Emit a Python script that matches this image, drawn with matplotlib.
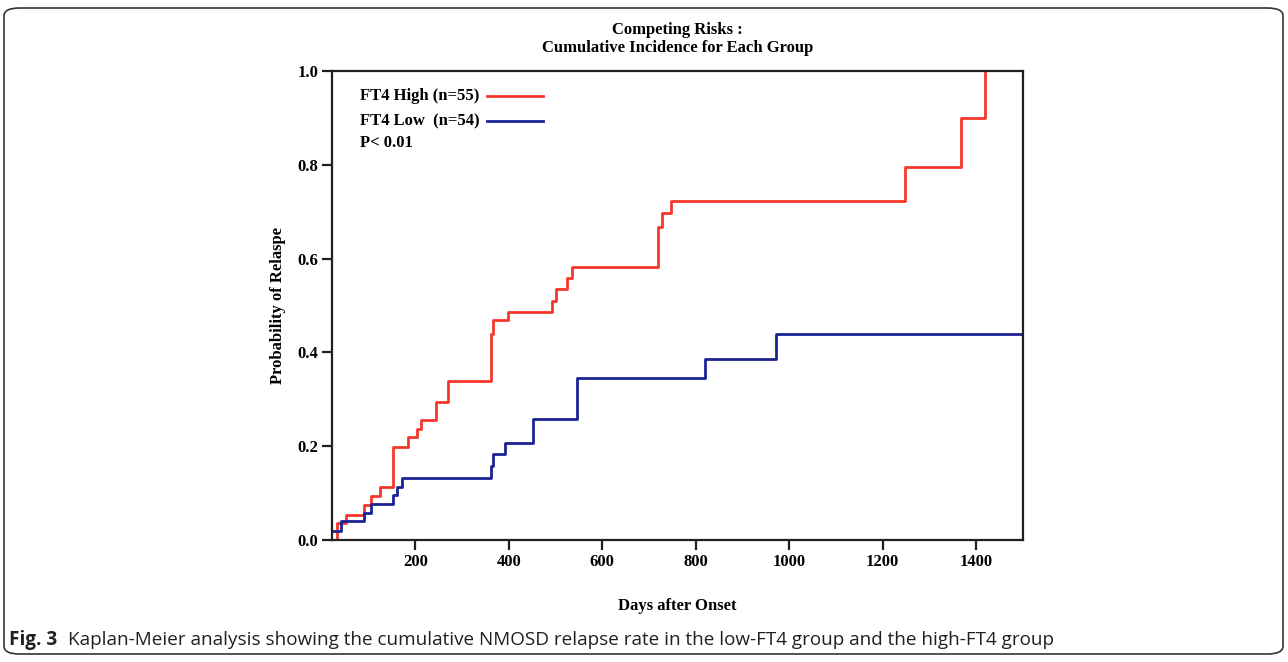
import numpy as np
import matplotlib
matplotlib.use('Agg')
import matplotlib.pyplot as plt
from matplotlib.patches import FancyBboxPatch

# cumulative incidence (days, probability)
high_days = [22, 33, 51, 91, 105, 124, 153, 184, 203, 212, 244, 271, 362, 366, 398,
             493, 501, 524, 536, 720, 727, 748, 1247, 1367, 1418]
high_prob = [0.0, 0.037, 0.053, 0.075, 0.094, 0.112, 0.199, 0.219, 0.237, 0.256, 0.295, 0.338,
             0.44, 0.47, 0.487, 0.51, 0.535, 0.558, 0.583, 0.667, 0.698, 0.722, 0.796, 0.899, 1.0]

low_days = [22, 41, 91, 105, 153, 162, 171, 363, 367, 392, 451, 545, 820, 971, 1500]
low_prob = [0.020, 0.041, 0.057, 0.077, 0.095, 0.114, 0.133, 0.157, 0.183, 0.206, 0.258,
            0.345, 0.386, 0.439, 0.439]

x_ticks = [200, 400, 600, 800, 1000, 1200, 1400]
y_ticks = [0.0, 0.2, 0.4, 0.6, 0.8, 1.0]

red = '#f5372a'
blue = '#1c2392'
serif = 'Liberation Serif'
fs = 12

fig = plt.figure(figsize=(12.88, 6.62), dpi=100)
ax = fig.add_axes([332 / 1288, 1 - 540 / 662, (1023 - 332) / 1288, (540 - 71) / 662])

ax.step(high_days, high_prob, where='post', color=red, lw=2.0)
ax.step(low_days, low_prob, where='post', color=blue, lw=2.0)

ax.set_xlim(22, 1500)
ax.set_ylim(0, 1.0)
ax.set_xticks(x_ticks)
ax.set_yticks(y_ticks)
ax.set_yticklabels(['%.1f' % v for v in y_ticks])
for s in ax.spines.values():
    s.set_linewidth(1.6)
    s.set_color('#231f20')
ax.tick_params(direction='out', length=7, width=1.6, color='#231f20', pad=3)
for lab in ax.get_xticklabels() + ax.get_yticklabels():
    lab.set_fontfamily(serif)
    lab.set_fontweight('bold')
    lab.set_fontsize(fs)

ax.set_xlabel('Days after Onset', fontfamily=serif, fontweight='bold', fontsize=fs, labelpad=20)
ax.set_ylabel('Probability of Relaspe', fontfamily=serif, fontweight='bold', fontsize=fs, labelpad=8)
ax.set_title('Competing Risks :\nCumulative Incidence for Each Group', fontfamily=serif,
             fontweight='bold', fontsize=fs, pad=14, linespacing=1.15)

# legend drawn as text + short lines, like the original
fig.text(360 / 1288, 1 - 96 / 662, 'FT4 High (n=55)', fontfamily=serif, fontweight='bold',
         fontsize=fs, va='center')
fig.text(360 / 1288, 1 - 121 / 662, 'FT4 Low  (n=54)', fontfamily=serif, fontweight='bold',
         fontsize=fs, va='center')
fig.text(360 / 1288, 1 - 143 / 662, 'P< 0.01', fontfamily=serif, fontweight='bold',
         fontsize=fs, va='center')
fig.add_artist(plt.Line2D([487 / 1288, 543 / 1288], [1 - 96 / 662, 1 - 96 / 662], color=red, lw=2.0))
fig.add_artist(plt.Line2D([487 / 1288, 543 / 1288], [1 - 121 / 662, 1 - 121 / 662], color=blue, lw=2.0))

# caption
fig.text(9 / 1288, 1 - 640 / 662, 'Fig. 3', fontfamily='Open Sans', fontweight='bold',
         fontsize=13.6, va='center', color='#231f20')
fig.text(68 / 1288, 1 - 640 / 662,
         'Kaplan-Meier analysis showing the cumulative NMOSD relapse rate in the low-FT4 group and the high-FT4 group',
         fontfamily='Open Sans', fontsize=13.6, va='center', color='#231f20')

frame = FancyBboxPatch((4 / 1288, 8 / 662), (1283 - 4) / 1288, (654 - 8) / 662,
                       boxstyle='round,pad=0,rounding_size=0.012', transform=fig.transFigure,
                       fill=False, ec='#333333', lw=1.2)
fig.add_artist(frame)

fig.savefig('out.png', dpi=100)
